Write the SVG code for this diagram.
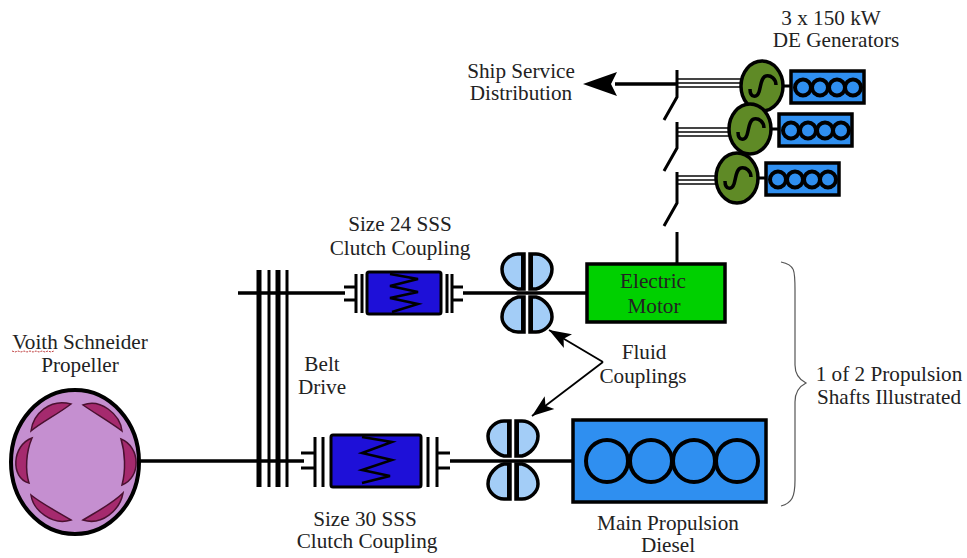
<svg xmlns="http://www.w3.org/2000/svg" width="967" height="558" viewBox="0 0 967 558">
<style>
text{font-family:"Liberation Serif","Times New Roman",serif;font-size:21.2px;fill:#222;text-anchor:middle}
.w{fill:none;stroke:#000;stroke-width:3.5}
.t{fill:none;stroke:#000;stroke-width:3}
.n{fill:none;stroke:#444;stroke-width:1.8}
.gen{fill:#5f8a26;stroke:#000;stroke-width:3.5}
.eng{fill:#2f8ff0;stroke:#000;stroke-width:3.5}
.cyl{fill:#2f8ff0;stroke:#000;stroke-width:4}
.fc{fill:#a3cdf7;stroke:#000;stroke-width:3.5}
.cl{fill:#1e10d8;stroke:#000;stroke-width:3}
.blade{fill:#a52a6e;stroke:#4a1030;stroke-width:1.5}
</style>
<defs>
<marker id="ah" markerUnits="userSpaceOnUse" markerWidth="24" markerHeight="18" refX="22" refY="9" orient="auto"><path d="M0 1L22 9L0 17L5 9Z" fill="#000"/></marker>
<g id="gset">
<ellipse class="gen" cx="0" cy="0" rx="21" ry="25"/>
<path d="M-12 3C-12 12 -5 12 -3 6C-1 0 -1 -9 4 -10C9 -11 14 -7 14 -1" fill="none" stroke="#000" stroke-width="3.5"/>
<path d="M21 0H29" class="t"/>
<rect class="eng" x="29" y="-15" width="73" height="32"/>
<g class="cyl"><circle cx="41" cy="1.5" r="8"/><circle cx="58" cy="1.5" r="8"/><circle cx="75" cy="1.5" r="8"/><circle cx="91" cy="1.5" r="8"/></g>
</g>
<g id="fc">
<path class="fc" d="M22 -4H16C8 -6 0 -14 0 -24C0 -32 8 -39 16 -39H22Z"/>
<path class="fc" d="M28 -4H34C42 -6 50 -14 50 -24C50 -32 42 -39 34 -39H28Z"/>
<path class="fc" d="M22 4H16C8 6 0 14 0 24C0 32 8 39 16 39H22Z"/>
<path class="fc" d="M28 4H34C42 6 50 14 50 24C50 32 42 39 34 39H28Z"/>
<path d="M21 -39V-4M29 -39V-4M21 4V39M29 4V39" fill="none" stroke="#000" stroke-width="4"/>
</g>
</defs>

<g id="connectors">
<path class="w" d="M238 293H345M463 293H587"/>
<path class="w" d="M140 461H304M450 461H573"/>
<path d="M259 270V487M278 270V487" fill="none" stroke="#000" stroke-width="5"/>
<path d="M269 270V487M287 270V487" fill="none" stroke="#000" stroke-width="3"/>
<path class="w" d="M677 84H615"/>
<path d="M583 84L617 72L611 84L617 96Z" fill="#000"/>
<path class="n" d="M677 79H742M677 83H742M677 87H742M677 128H730M677 132H730M677 136H730M677 176H717M677 180H717M677 184H717"/>
<path class="t" d="M677 70V97L664 120M677 122V148L664 171M677 172V203L664 226M677 232V264"/>
<path d="M603 362L549 330" stroke="#000" stroke-width="1.8" fill="none" marker-end="url(#ah)"/>
<path d="M603 362L532 416" stroke="#000" stroke-width="1.8" fill="none" marker-end="url(#ah)"/>
</g>

<g id="generator-1"><use href="#gset" x="762" y="86"/></g>
<g id="generator-2"><use href="#gset" x="750" y="129"/></g>
<g id="generator-3"><use href="#gset" x="737" y="178"/></g>

<g id="generators-label"><text x="831" y="25">3 x 150 kW</text><text x="836" y="47">DE Generators</text></g>
<g id="ship-service-label"><text x="521" y="78">Ship Service</text><text x="521" y="100">Distribution</text></g>

<g id="electric-motor">
<rect x="587" y="264" width="138" height="58" fill="#00d000" stroke="#000" stroke-width="3.5"/>
<text x="653" y="288">Electric</text><text x="654" y="313">Motor</text>
</g>

<g id="clutch-24">
<rect class="cl" x="367" y="272" width="74" height="42" rx="2"/>
<path class="t" d="M356 274V313M362 274V313M447 274V313M452 274V313M344 287H356M344 300H356M452 287H463M452 300H463"/>
<path d="M390 274L418 279L390 286L418 292L390 298L418 304L392 312" fill="none" stroke="#000" stroke-width="2.5"/>
<text x="400" y="231">Size 24 SSS</text><text x="400" y="255">Clutch Coupling</text>
</g>

<g id="clutch-30">
<rect class="cl" x="331" y="435" width="90" height="52" rx="2"/>
<path class="t" d="M315 437V487M323 437V487M428 437V487M437 437V487M301 453H315M301 468H315M437 453H450M437 468H450"/>
<path d="M362 437L392 442L362 453L392 460L362 470L390 476L362 483" fill="none" stroke="#000" stroke-width="2.5"/>
<text x="365" y="526">Size 30 SSS</text><text x="367" y="548">Clutch Coupling</text>
</g>

<g id="fluid-coupling-top"><use href="#fc" x="502" y="293"/></g>
<g id="fluid-coupling-bottom"><use href="#fc" x="488" y="460"/></g>
<g id="fluid-label"><text x="644" y="359">Fluid</text><text x="643" y="383">Couplings</text></g>

<g id="belt-drive-label"><text x="322" y="371">Belt</text><text x="322" y="394">Drive</text></g>

<g id="diesel">
<rect x="573" y="420" width="193" height="82" fill="#2f8ff0" stroke="#000" stroke-width="3.5"/>
<g class="cyl"><circle cx="607" cy="461" r="21"/><circle cx="651" cy="461" r="21"/><circle cx="694" cy="461" r="21"/><circle cx="737" cy="461" r="21"/></g>
<text x="668" y="530">Main Propulsion</text><text x="668" y="552">Diesel</text>
</g>

<g id="propeller">
<text x="80" y="349">Voith Schneider</text><text x="80" y="372">Propeller</text>
<path d="M12 351l3 1l3 -1l3 1l3 -1l3 1l3 -1l3 1l3 -1l3 1l3 -1l3 1l3 -1l3 1l3 -1" fill="none" stroke="#c04040" stroke-width="1" stroke-dasharray="2 1"/>
<ellipse cx="75" cy="462" rx="64" ry="72" fill="#c58fd0" stroke="#000" stroke-width="4"/>
<path class="blade" d="M31 431C33 414 50 398 71 404C58 414 42 422 31 431Z"/>
<path class="blade" d="M83 405C100 398 120 414 122 431C110 422 96 414 83 405Z"/>
<path class="blade" d="M32 438C12 445 10 478 29 483C25 470 26 452 32 438Z"/>
<path class="blade" d="M121 439C141 447 141 478 122 485C126 470 125 452 121 439Z"/>
<path class="blade" d="M31 495C33 510 52 526 71 520C58 512 42 504 31 495Z"/>
<path class="blade" d="M123 493C120 510 102 526 83 520C96 512 112 504 123 493Z"/>
</g>

<g id="brace-label">
<path d="M781 262C795 265 795 270 795 290V365C795 375 800 380 806 383C800 386 795 392 795 402V480C795 497 792 503 781 506" fill="none" stroke="#555" stroke-width="1.2"/>
<text x="889" y="381">1 of 2 Propulsion</text><text x="889" y="404">Shafts Illustrated</text>
</g>
</svg>
